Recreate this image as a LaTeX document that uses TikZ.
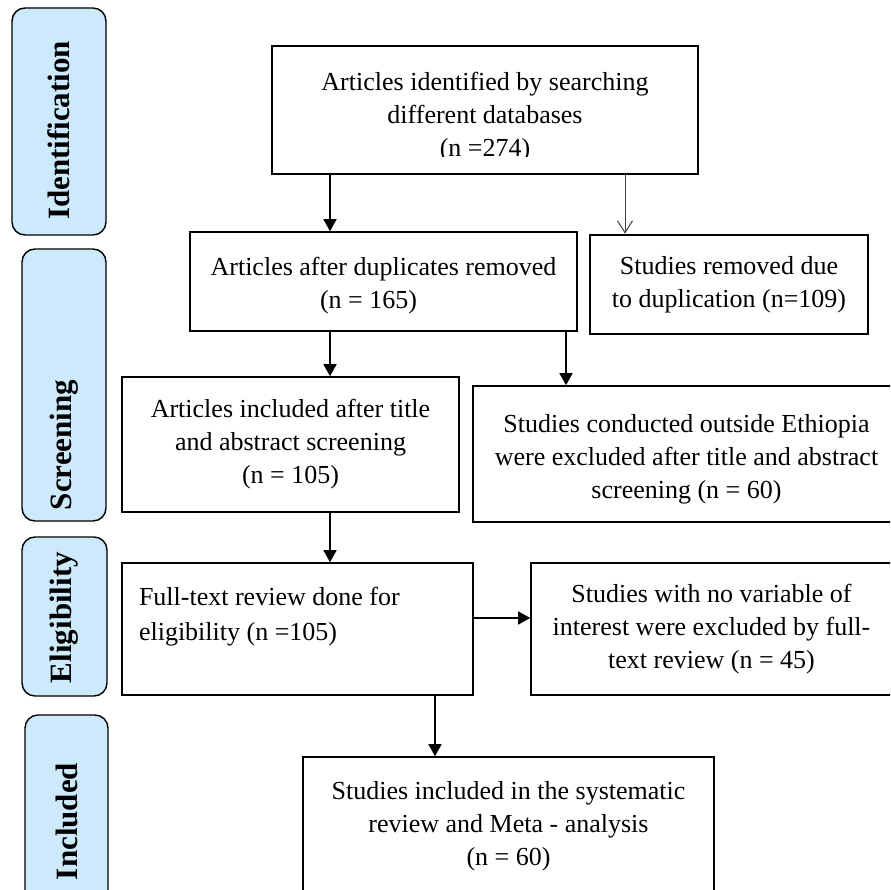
\documentclass[tikz,border=0pt]{standalone}
\usepackage{fontspec}
\setmainfont{Liberation Serif}
\usetikzlibrary{arrows.meta}
\definecolor{phaseblue}{RGB}{205,233,252}
\newcommand\flowfont{\fontsize{26}{33}\selectfont}
\newcommand\phasefont{\fontsize{31}{36}\selectfont\bfseries}
\tikzset{
 flowbox/.style={draw=black, line width=1.6pt, inner sep=0pt, align=center, font=\flowfont},
 phasebox/.style={draw=black, line width=1.4pt, fill=phaseblue, rounded corners=13pt, rotate=90, inner sep=0pt, font=\phasefont},
 arr/.style={line width=1.5pt, -{Triangle[width=13pt,length=12pt]}},
 openarr/.style={line width=1pt, draw=black!75, -{Straight Barb[width=15pt,length=12pt,line width=1pt]}},
}
\begin{document}
\begin{tikzpicture}[x=1pt,y=-1pt]
\useasboundingbox (0,0) rectangle (890,890);
\clip (0,0) rectangle (890,890);
% phase labels
\node[phasebox, minimum width=227pt, minimum height=94pt, text width=197pt, align=left] (pid) at (59,121.5) {Identification};
\node[phasebox, minimum width=272pt, minimum height=84pt, text width=250pt, align=left] (psc) at (64,385) {Screening};
\node[phasebox, minimum width=159pt, minimum height=85pt, text width=133pt, align=left] (pel) at (64.5,616.5) {Eligibility};
\node[phasebox, minimum width=190pt, minimum height=83pt, text width=140pt, align=left] (pin) at (66.5,810) {Included};
% flow boxes
\node[flowbox, minimum width=426pt, minimum height=128pt] (a) at (485,110) {\rule{0pt}{32pt}Articles identified by searching\\different databases\\(n =274)};
\fill[white] (274,157.5) rectangle (696.2,172.6);
\node[flowbox, minimum width=387pt, minimum height=99pt] (b) at (383.5,281.5) {\rule{0pt}{26pt}Articles after duplicates removed\\(n = 165)\hspace*{30pt}};
\node[flowbox, line width=2.6pt, minimum width=278pt, minimum height=99pt] (c) at (729,284.5) {Studies removed due\\to duplication (n=109)};
\node[flowbox, minimum width=337pt, minimum height=135pt] (d) at (290.5,444.5) {Articles included after title\\and abstract screening\\(n = 105)};
\node[flowbox, minimum width=427pt, minimum height=136pt] (e) at (686.5,454) {\rule{0pt}{28pt}Studies conducted outside Ethiopia\\were excluded after title and abstract\\screening (n = 60)};
\node[flowbox, minimum width=351pt, minimum height=132pt, align=left] (f) at (297.5,629) {\makebox[317pt][l]{Full-text review done for}\\[2pt]eligibility (n =105)\\[-12pt]\strut};
\node[flowbox, minimum width=361pt, minimum height=132pt] (g) at (711.5,629) {Studies with no variable of\\interest were excluded by full-\\text review (n = 45)};
\node[flowbox, minimum width=411pt, minimum height=138pt] (h) at (508.5,826) {Studies included in the systematic\\review and Meta - analysis\\(n = 60)};
% guide coordinates
\coordinate (x330) at (330,0);
\coordinate (x625) at (625,0);
\coordinate (x566) at (566,0);
\coordinate (x435) at (435,0);
\coordinate (y618) at (0,618);
% connectors
\draw[arr] (a.south -| x330) -- (b.north -| x330);
\draw[openarr] (a.south -| x625) -- (c.north -| x625);
\draw[arr] (b.south -| x330) -- (d.north -| x330);
\draw[arr] (b.south -| x566) -- (e.north -| x566);
\draw[arr] (d.south -| x330) -- (f.north -| x330);
\draw[arr] (f.east |- y618) -- (g.west |- y618);
\draw[arr] (f.south -| x435) -- (h.north -| x435);
\end{tikzpicture}
\end{document}
